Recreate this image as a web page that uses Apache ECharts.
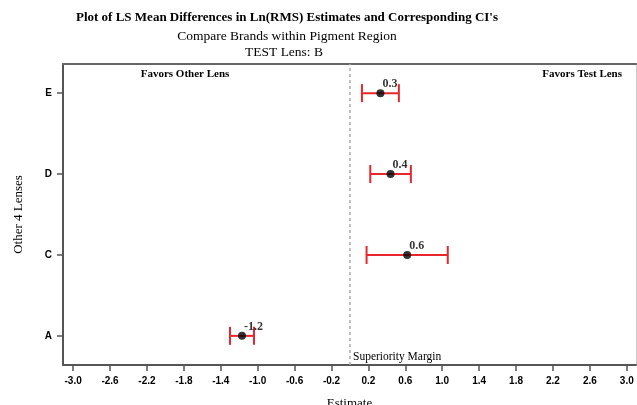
<!DOCTYPE html>
<html>
<head>
<meta charset="utf-8">
<script src="https://cdn.jsdelivr.net/npm/echarts@6/dist/echarts.min.js"></script>
<style>
html,body{margin:0;padding:0;background:#fff;}
#chart{width:637px;height:405px;}
</style>
</head>
<body>
<div id="chart"></div>
<script>
// ---- data ----
var categories = ['A', 'C', 'D', 'E'];
var categoryPos = [1, 2, 3, 4];
var estimates = [-1.17, 0.62, 0.44, 0.33];
var lowerCI = [-1.30, 0.18, 0.22, 0.13];
var upperCI = [-1.04, 1.06, 0.66, 0.53];
var pointLabels = ['-1.2', '0.6', '0.4', '0.3'];
var xTicks = [-3.0, -2.6, -2.2, -1.8, -1.4, -1.0, -0.6, -0.2, 0.2, 0.6, 1.0, 1.4, 1.8, 2.2, 2.6, 3.0];
var marginValue = 0;

var serif = '"Liberation Serif", "DejaVu Serif", serif';
var sans = '"Liberation Sans", Arial, sans-serif';

var chart = echarts.init(document.getElementById('chart'));

var pointData = estimates.map(function (v, i) {
  return { value: [v, categoryPos[i]], label: { formatter: pointLabels[i] } };
});
var barData = estimates.map(function (v, i) {
  return [lowerCI[i], upperCI[i], categoryPos[i]];
});

var option = {
  animation: false,
  backgroundColor: '#fff',
  grid: { left: 63, right: 1, top: 64, bottom: 40, containLabel: false, outerBoundsMode: 'none' },
  graphic: [
    { type: 'text', x: 287, y: 18, style: { text: "Plot of LS Mean Differences in Ln(RMS) Estimates and Corresponding CI's", font: 'bold 13px ' + serif, fill: '#000', align: 'center', verticalAlign: 'middle' } },
    { type: 'text', x: 287, y: 36, style: { text: 'Compare Brands within Pigment Region', font: '13.5px ' + serif, fill: '#000', align: 'center', verticalAlign: 'middle' } },
    { type: 'text', x: 284, y: 52, style: { text: 'TEST Lens: B', font: '13.5px ' + serif, fill: '#000', align: 'center', verticalAlign: 'middle' } },
    { type: 'text', x: 185, y: 74, style: { text: 'Favors Other Lens', font: 'bold 11px ' + serif, fill: '#000', align: 'center', verticalAlign: 'middle' } },
    { type: 'text', x: 622, y: 74, style: { text: 'Favors Test Lens', font: 'bold 11px ' + serif, fill: '#000', align: 'right', verticalAlign: 'middle' } },
    { type: 'text', x: 353, y: 357, style: { text: 'Superiority Margin', font: '11.5px ' + serif, fill: '#000', align: 'left', verticalAlign: 'middle' } }
  ],
  xAxis: [{
    type: 'value',
    min: -3.11, max: 3.10,
    name: 'Estimate',
    nameLocation: 'middle',
    nameGap: 32,
    nameTextStyle: { fontFamily: serif, fontSize: 13, color: '#000', verticalAlign: 'top' },
    axisLine: { show: true, onZero: false, lineStyle: { color: '#555', width: 2 } },
    axisTick: { show: true, customValues: xTicks, length: 6, lineStyle: { color: '#555', width: 1.5 } },
    axisLabel: { customValues: xTicks, margin: 11, fontFamily: sans, fontWeight: 'bold', fontSize: 10, color: '#000',
      formatter: function (v) { return (Math.abs(v) < 1e-9 ? 0 : v).toFixed(1); } },
    splitLine: { show: false }
  }, {
    type: 'value', position: 'top', min: -3.11, max: 3.10,
    axisLine: { show: true, onZero: false, lineStyle: { color: '#666', width: 2 } },
    axisTick: { show: false }, axisLabel: { show: false }, splitLine: { show: false }
  }],
  yAxis: [{
    type: 'value',
    min: 0.64, max: 4.36,
    name: 'Other 4 Lenses',
    nameLocation: 'middle',
    nameGap: 38,
    nameRotate: 90,
    nameTextStyle: { fontFamily: serif, fontSize: 13, color: '#000' },
    axisLine: { show: true, onZero: false, lineStyle: { color: '#555', width: 2 } },
    axisTick: { show: true, customValues: categoryPos, length: 6, lineStyle: { color: '#555', width: 1.5 } },
    axisLabel: { customValues: categoryPos, margin: 11, fontFamily: sans, fontWeight: 'bold', fontSize: 10, color: '#000',
      formatter: function (v) { var i = categoryPos.indexOf(Math.round(v)); return i >= 0 ? categories[i] : ''; } },
    splitLine: { show: false }
  }, {
    type: 'value', position: 'right', min: 0.64, max: 4.36,
    axisLine: { show: true, onZero: false, lineStyle: { color: '#ccc', width: 1 } },
    axisTick: { show: false }, axisLabel: { show: false }, splitLine: { show: false }
  }],
  series: [{
    type: 'custom',
    xAxisIndex: 0, yAxisIndex: 0,
    data: barData,
    renderItem: function (params, api) {
      var lo = api.coord([api.value(0), api.value(2)]);
      var hi = api.coord([api.value(1), api.value(2)]);
      var h = 9;
      var st = { stroke: '#e8262b', lineWidth: 2 };
      return {
        type: 'group',
        children: [
          { type: 'line', shape: { x1: lo[0], y1: lo[1], x2: hi[0], y2: hi[1] }, style: st },
          { type: 'line', shape: { x1: lo[0], y1: lo[1] - h, x2: lo[0], y2: lo[1] + h }, style: st },
          { type: 'line', shape: { x1: hi[0], y1: hi[1] - h, x2: hi[0], y2: hi[1] + h }, style: st }
        ]
      };
    },
    z: 2
  }, {
    type: 'scatter',
    xAxisIndex: 0, yAxisIndex: 0,
    data: pointData,
    symbol: 'circle',
    symbolSize: 8,
    itemStyle: { color: '#000' },
    label: { show: true, position: 'right', distance: 0, offset: [-2, -9], fontFamily: serif, fontWeight: 'bold', fontSize: 12, color: '#000' },
    markLine: {
      silent: true,
      symbol: ['none', 'none'],
      label: { show: false },
      lineStyle: { color: '#aaa', type: [3, 3], width: 1.5 },
      data: [{ xAxis: marginValue }]
    },
    z: 3
  }]
};
chart.setOption(option);
</script>
</body>
</html>
